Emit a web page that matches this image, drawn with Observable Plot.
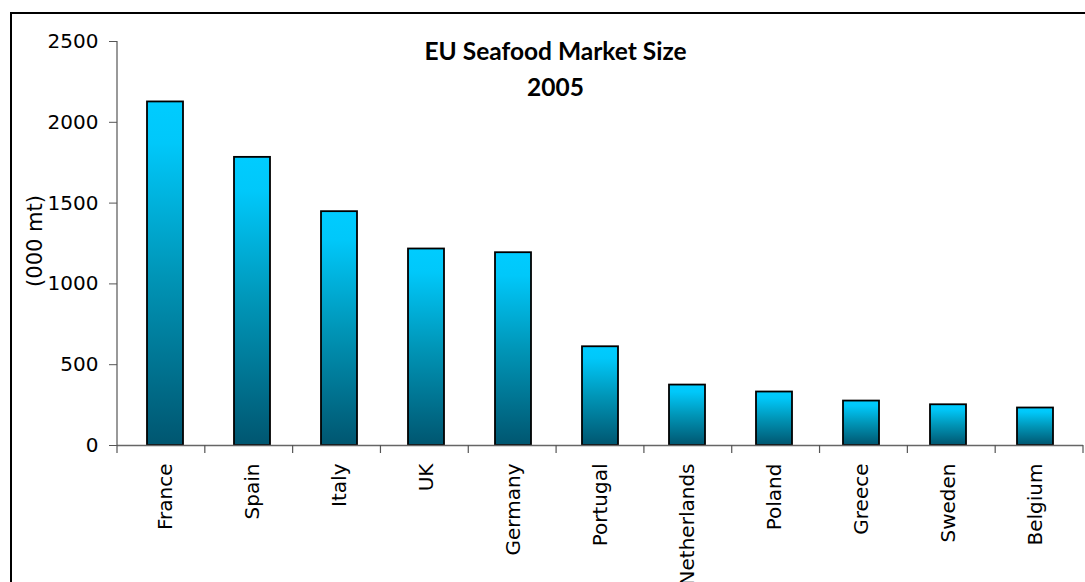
<!DOCTYPE html>
<html>
<head>
<meta charset="utf-8">
<script src="https://cdn.jsdelivr.net/npm/d3@7"></script>
<script src="https://cdn.jsdelivr.net/npm/@observablehq/plot@0.6"></script>
<style>
  html, body { margin: 0; padding: 0; background: #fff; }
  #wrap { position: relative; width: 1085px; height: 582px; overflow: hidden; }
  #border { position: absolute; left: 10px; top: 12px; width: 1200px; height: 700px; border: 2px solid #000; box-sizing: border-box; pointer-events: none; }
  svg { position: absolute; left: 0; top: 0; }
</style>
</head>
<body>
<div id="wrap"><div id="border"></div></div>
<script>
const countries = ["France", "Spain", "Italy", "UK", "Germany", "Portugal", "Netherlands", "Poland", "Greece", "Sweden", "Belgium"];
const values = [2126, 1783, 1447, 1216, 1193, 611, 374, 331, 275, 252, 232];
const yTicks = [0, 500, 1000, 1500, 2000, 2500];
const titleLines = ["EU Seafood Market Size", "2005"];
const yLabel = "(000 mt)";

const data = countries.map((c, i) => ({country: c, value: values[i]}));
const pad = 0.59;

const chart = Plot.plot({
  width: 1085,
  height: 582,
  marginLeft: 117,
  marginRight: 2,
  marginTop: 41,
  marginBottom: 137,
  style: {fontFamily: "DejaVu Sans", background: "transparent"},
  x: {domain: countries, paddingInner: pad, paddingOuter: pad / 2, label: null},
  y: {domain: [0, 2500], ticks: yTicks, label: null},
  marks: [
    Plot.barY(data, {x: "country", y: "value", fill: "url(#barGrad)", stroke: "#000", strokeWidth: 1.8}),
    Plot.axisY({ticks: yTicks, tickFormat: d => String(d), tickSize: 8, tickPadding: 11, stroke: "#555", label: null}),
    Plot.axisX({tickSize: 0, tickRotate: -90, tickPadding: 18, label: null}),
    Plot.ruleY([0], {stroke: "#666", strokeWidth: 1.5}),
    Plot.text([titleLines[0]], {frameAnchor: "top", dx: -45, dy: 1, text: d => d}),
    Plot.text([titleLines[1]], {frameAnchor: "top", dx: -45, dy: 37, text: d => d})
  ]
});

const svg = d3.select(chart);
const xs = chart.scale("x");
const ys = chart.scale("y");
const x0 = xs.range[0], x1 = xs.range[1];
const yBase = ys.apply(0);
const yTop = ys.apply(2500);

// fonts
svg.selectAll("g[aria-label='y-axis tick label'] text")
  .style("font-family", "DejaVu Sans").style("font-size", "20px").attr("fill", "#000");
svg.selectAll("g[aria-label='x-axis tick label'] text")
  .style("font-family", "DejaVu Sans").style("font-size", "20px").attr("fill", "#000");
svg.selectAll("g[aria-label='text'] text")
  .style("font-family", "Lato").style("font-weight", "bold").style("font-size", "24.5px").attr("fill", "#000");

// gradient
const defs = svg.insert("defs", ":first-child");
const g = defs.append("linearGradient").attr("id", "barGrad").attr("x1", 0).attr("y1", 0).attr("x2", 0).attr("y2", 1);
[[0, "#00CCFF"], [0.12, "#00C8FA"], [0.5, "#0096B8"], [1, "#005670"]].forEach(([o, c]) =>
  g.append("stop").attr("offset", o).attr("stop-color", c));

// y axis line
svg.append("line").attr("x1", x0).attr("x2", x0).attr("y1", yTop).attr("y2", yBase).attr("stroke", "#555").attr("stroke-width", 1.2);
// x ticks at band boundaries
const step = (x1 - x0) / countries.length;
for (let i = 0; i <= countries.length; i++) {
  const xx = x0 + i * step;
  svg.append("line").attr("x1", xx).attr("x2", xx).attr("y1", yBase).attr("y2", yBase + 8).attr("stroke", "#555").attr("stroke-width", 1.2);
}
// y label
svg.append("text").attr("transform", `translate(36,${(yTop + yBase) / 2 - 2})  rotate(-90)`)
  .attr("text-anchor", "middle").attr("dominant-baseline", "middle")
  .style("font-family", "DejaVu Sans").style("font-size", "21px").attr("fill", "#000").text(yLabel);

document.getElementById("wrap").prepend(chart);
</script>
</body>
</html>
